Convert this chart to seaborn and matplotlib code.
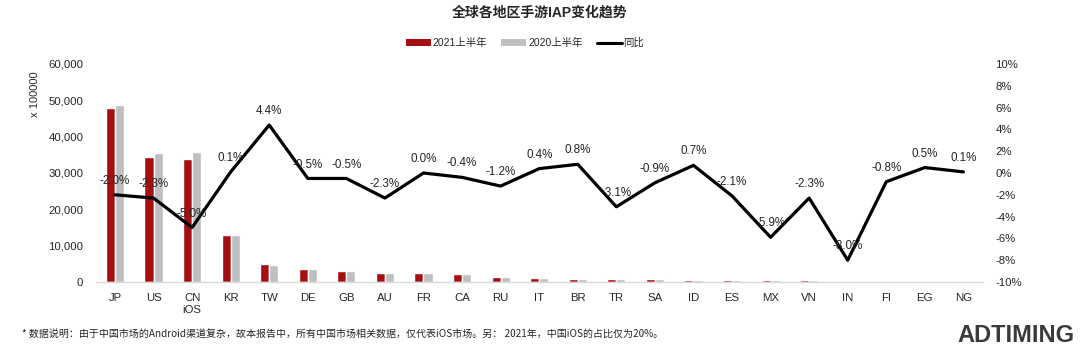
import numpy as np
import pandas as pd
import matplotlib
matplotlib.use("Agg")
import matplotlib.pyplot as plt
import seaborn as sns
from matplotlib.patches import Patch
from matplotlib.lines import Line2D
from matplotlib.ticker import FuncFormatter

# ---------------- data ----------------
regions = ["JP", "US", "CN\niOS", "KR", "TW", "DE", "GB", "AU", "FR", "CA", "RU", "IT",
           "BR", "TR", "SA", "ID", "ES", "MX", "VN", "IN", "FI", "EG", "NG"]
iap_2021 = [47900, 34500, 33900, 12900, 5050, 3600, 3150, 2600, 2500, 2250, 1400, 1000,
            900, 750, 800, 600, 500, 450, 450, 350, 150, 40, 30]
iap_2020 = [48700, 35600, 35900, 12900, 4800, 3600, 3150, 2600, 2450, 2250, 1400, 1000,
            900, 780, 800, 600, 520, 470, 470, 370, 150, 40, 30]
yoy = [-2.0, -2.3, -5.0, 0.1, 4.4, -0.5, -0.5, -2.3, 0.0, -0.4, -1.2, 0.4,
       0.8, -3.1, -0.9, 0.7, -2.1, -5.9, -2.3, -8.0, -0.8, 0.5, 0.1]
series_names = ["2021上半年", "2020上半年", "同比"]
left_ticks = [0, 10000, 20000, 30000, 40000, 50000, 60000]
right_ticks = [-10, -8, -6, -4, -2, 0, 2, 4, 6, 8, 10]

title = "全球各地区手游IAP变化趋势"
ylabel = "x 100000"
footnote = "* 数据说明：由于中国市场的Android渠道复杂，故本报告中，所有中国市场相关数据，仅代表iOS市场。另： 2021年，中国iOS的占比仅为20%。"

RED = "#A50F12"
GRAY = "#BFBFBF"
TXT = "#262626"

sns.set_theme(style="white")
plt.rcParams["font.family"] = ["Liberation Sans", "Noto Sans CJK SC", "DejaVu Sans"]

df = pd.DataFrame({
    "region": regions * 2,
    "value": iap_2021 + iap_2020,
    "series": [series_names[0]] * len(regions) + [series_names[1]] * len(regions),
})

fig = plt.figure(figsize=(10.8, 3.47), dpi=100)
fig.patch.set_facecolor("white")

ax = fig.add_axes([0.0886, 0.1873, 0.8213, 0.6283])
ax.patch.set_visible(False)

sns.barplot(data=df, x="region", y="value", hue="series", order=regions,
            palette=[RED, GRAY], width=0.47, saturation=1, gap=0,
            legend=False, ax=ax)
ax.set_ylim(0, 60000)
ax.set_yticks(left_ticks)
ax.yaxis.set_major_formatter(FuncFormatter(lambda v, p: f"{int(v):,}"))
ax.set_xlabel("")
ax.set_ylabel(ylabel, fontsize=8, color=TXT)
ax.yaxis.set_label_coords(-0.063, 0.86)
ax.tick_params(axis="both", length=0, labelsize=8.2, colors=TXT)
ax.tick_params(axis="y", pad=9)
ax.tick_params(axis="x", pad=8)
for s in ["top", "right", "left"]:
    ax.spines[s].set_visible(False)
ax.spines["bottom"].set_color("#d9d9d9")
ax.spines["bottom"].set_linewidth(1)

ax2 = ax.twinx()
ax2.patch.set_visible(False)
sns.pointplot(x=regions, y=yoy, order=regions, color="black", markers="", linestyles="-",
              errorbar=None, linewidth=2.3, ax=ax2)
ax2.set_ylim(-10, 10)
ax2.set_yticks(right_ticks)
ax2.set_yticklabels([f"{t}%" for t in right_ticks])
ax2.tick_params(axis="y", length=0, labelsize=8.2, colors=TXT, pad=9)
for s in ["top", "right", "left", "bottom"]:
    ax2.spines[s].set_visible(False)
ax2.set_ylabel("")
ax2.set_xlim(-0.5, len(regions) - 0.5)

for i, v in enumerate(yoy):
    ax2.annotate(f"{v:.1f}%", (i, v), xytext=(0, 10), textcoords="offset points",
                 ha="center", va="center", fontsize=8.4, color=TXT)

# title
fig.text(0.5, 1 - 13 / 347, title, ha="center", va="center", fontsize=10,
         color=TXT, weight="bold")

# legend
handles = [Patch(facecolor=RED, edgecolor="none"),
           Patch(facecolor=GRAY, edgecolor="none"),
           Line2D([0], [0], color="black", lw=2.2)]
fig.legend(handles, series_names, loc="center", bbox_to_anchor=(525 / 1080, 1 - 43 / 347),
           ncol=3, frameon=False, fontsize=7.5, handlelength=2.4, handleheight=0.6,
           handletextpad=0.15, columnspacing=1.4, labelcolor=TXT)

# footnote
fig.text(22 / 1080, 1 - 334 / 347, footnote, ha="left", va="center", fontsize=7.2,
         color=TXT, family=["Noto Sans CJK SC", "DejaVu Sans"])

# logo text
fig.text(1075 / 1080, 1 - 342 / 347, "ADTIMING", ha="right", va="baseline",
         fontsize=17, weight="bold", color="#3a3a3a")

fig.savefig("out.png", dpi=100)
